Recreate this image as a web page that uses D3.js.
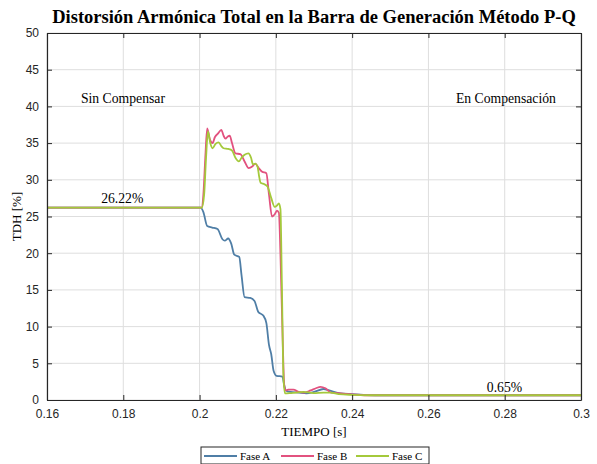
<!DOCTYPE html>
<html><head><meta charset="utf-8">
<script src="https://cdn.jsdelivr.net/npm/d3@7"></script>
<style>body{margin:0;background:#fff}</style>
</head><body>
<svg id="c" width="597" height="464"></svg>
<script>
const titleText = "Distorsión Armónica Total en la Barra de Generación Método P-Q";
const xTicks = [0.16,0.18,0.2,0.22,0.24,0.26,0.28,0.3];
const xTickLabels = ["0.16","0.18","0.2","0.22","0.24","0.26","0.28","0.3"];
const yTicks = [0,5,10,15,20,25,30,35,40,45,50];
const seriesNames = ["Fase A","Fase B","Fase C"];
const seriesColors = ["#4f7ea6","#e2527f","#a4c93b"];

const tA = [0.16,0.2003,0.2010,0.2020,0.2033,0.2047,0.2060,0.2066,0.2075,0.2083,0.2091,0.2104,0.2110,0.2118,0.2133,0.2144,0.2154,0.2167,0.2175,0.2182,0.2188,0.2194,0.2202,0.2217,0.2222,0.2226,0.2238,0.2260,0.2280,0.2300,0.2325,0.2340,0.2370,0.2400,0.2430,0.2460,0.30];
const fA = [26.22,26.22,25.6,23.7,23.5,23.3,21.9,21.7,22.0,21.3,19.8,19.5,17.0,14.0,13.9,13.5,12.0,11.5,10.5,7.5,6.2,4.0,3.3,3.2,2.0,1.3,1.1,1.0,0.9,1.1,1.5,1.3,0.9,0.8,0.7,0.65,0.65];

const tB = [0.16,0.2005,0.2010,0.2015,0.2020,0.2027,0.2034,0.2040,0.2048,0.2057,0.2063,0.2068,0.2074,0.2079,0.2085,0.2094,0.2107,0.2118,0.2129,0.2138,0.2146,0.2155,0.2164,0.2175,0.2182,0.2190,0.2197,0.2203,0.2208,0.2212,0.2218,0.2222,0.2226,0.2232,0.2246,0.2260,0.2273,0.2291,0.2305,0.2317,0.2330,0.2345,0.2370,0.2400,0.2440,0.30];
const fB = [26.22,26.22,28,33,37.0,35.5,35.0,35.8,36.3,36.8,36.0,35.6,35.9,36.0,35.0,33.6,33.5,32.5,31.6,31.8,32.2,31.6,31.1,30.9,28,25.0,25.3,25.8,25.5,20,8,2.0,1.3,1.4,1.4,1.1,1.0,1.3,1.6,1.8,1.6,1.0,0.9,0.75,0.65,0.65];

const tC = [0.16,0.2006,0.2012,0.2017,0.2022,0.2028,0.2034,0.2042,0.2050,0.2057,0.2063,0.2075,0.2085,0.2094,0.2103,0.2110,0.2118,0.2128,0.2135,0.2140,0.2146,0.2152,0.2156,0.2160,0.2170,0.2178,0.2188,0.2197,0.2203,0.2208,0.2212,0.2216,0.2220,0.2224,0.2240,0.2273,0.2299,0.2325,0.2343,0.2365,0.2400,0.2440,0.30];
const fC = [26.22,26.22,28,33,36.6,35.0,34.3,34.9,35.1,34.6,34.3,34.2,34.0,33.0,32.5,33.0,33.4,33.6,33.0,32.1,32.2,31.8,30.5,29.6,29.4,29.1,27.5,26.3,26.5,26.8,26.0,15,3,0.9,0.95,1.1,0.95,1.0,1.0,0.8,0.7,0.65,0.65];

const annotations = [
  {text:"Sin Compensar", x:0.1689, y:40.4},
  {text:"En Compensación", x:0.2672, y:40.4},
  {text:"26.22%", x:0.1742, y:26.8},
  {text:"0.65%", x:0.2753, y:1.1}
];

const svg = d3.select("#c");
const L=47, R=581, T=33, B=400;
const x = d3.scaleLinear().domain([0.16,0.3]).range([L,R]);
const y = d3.scaleLinear().domain([0,50]).range([B,T]);
const sans = "'Liberation Sans', Arial, sans-serif";
const serif = "'Liberation Serif', 'Times New Roman', serif";
const axisCol = "#262626";

// grid
const g = svg.append("g");
g.selectAll(".gx").data(xTicks).enter().append("line")
  .attr("x1",d=>x(d)).attr("x2",d=>x(d)).attr("y1",T).attr("y2",B)
  .attr("stroke","#dedede").attr("stroke-width",1);
g.selectAll(".gy").data(yTicks).enter().append("line")
  .attr("x1",L).attr("x2",R).attr("y1",d=>y(d)).attr("y2",d=>y(d))
  .attr("stroke","#dedede").attr("stroke-width",1);

// lines
const sets = [[tA,fA],[tB,fB],[tC,fC]];
const line = d3.line().x(d=>x(d[0])).y(d=>y(d[1])).curve(d3.curveMonotoneX);
sets.forEach((s,i)=>{
  const pts = s[0].map((t,j)=>[t,s[1][j]]);
  svg.append("path").attr("d",line(pts)).attr("fill","none")
    .attr("stroke",seriesColors[i]).attr("stroke-width",1.8).attr("stroke-linejoin","round");
});

// axes
const xAxis = d3.axisBottom(x).tickValues(xTicks).tickFormat((d,i)=>xTickLabels[i]).tickSizeInner(-5).tickSizeOuter(0).tickPadding(9);
const yAxis = d3.axisLeft(y).tickValues(yTicks).tickSizeInner(-5).tickSizeOuter(0).tickPadding(8);
const xa = svg.append("g").attr("transform",`translate(0,${B})`).call(xAxis);
const ya = svg.append("g").attr("transform",`translate(${L},0)`).call(yAxis);
const xt = svg.append("g").attr("transform",`translate(0,${T})`).call(d3.axisTop(x).tickValues(xTicks).tickSizeInner(-5).tickSizeOuter(0).tickFormat(""));
const yr = svg.append("g").attr("transform",`translate(${R},0)`).call(d3.axisRight(y).tickValues(yTicks).tickSizeInner(-5).tickSizeOuter(0).tickFormat(""));
[xa,ya,xt,yr].forEach(a=>{
  a.selectAll("path").attr("stroke",axisCol).attr("stroke-width",1.2);
  a.selectAll("line").attr("stroke",axisCol);
  a.selectAll("text").attr("fill",axisCol).style("font-family",sans).style("font-size","12px");
});

// title
svg.append("text").attr("x",(L+R)/2).attr("y",23).attr("text-anchor","middle")
  .style("font-family",serif).style("font-weight","bold").style("font-size","18.5px").attr("fill","#000")
  .text(titleText);
// axis labels
svg.append("text").attr("x",(L+R)/2).attr("y",436).attr("text-anchor","middle")
  .style("font-family",serif).style("font-size","13px").attr("fill","#000").text("TIEMPO [s]");
svg.append("text").attr("transform",`translate(21,${(T+B)/2}) rotate(-90)`).attr("text-anchor","middle")
  .style("font-family",serif).style("font-size","13px").attr("fill","#000").text("TDH [%]");

// annotations
svg.selectAll(".ann").data(annotations).enter().append("text")
  .attr("x",d=>x(d.x)).attr("y",d=>y(d.y))
  .style("font-family",serif).style("font-size","13.7px").attr("fill","#000").text(d=>d.text);

// legend
const lg = svg.append("g");
lg.append("rect").attr("x",201).attr("y",447).attr("width",228).attr("height",17)
  .attr("fill","#fff").attr("stroke","#262626").attr("stroke-width",1);
const legX = [204, 281, 356];
seriesNames.forEach((n,i)=>{
  lg.append("line").attr("x1",legX[i]).attr("x2",legX[i]+33).attr("y1",456).attr("y2",456)
    .attr("stroke",seriesColors[i]).attr("stroke-width",1.8);
  lg.append("text").attr("x",legX[i]+36).attr("y",460)
    .style("font-family",serif).style("font-size","11px").attr("fill","#000").text(n);
});
</script>
</body></html>
